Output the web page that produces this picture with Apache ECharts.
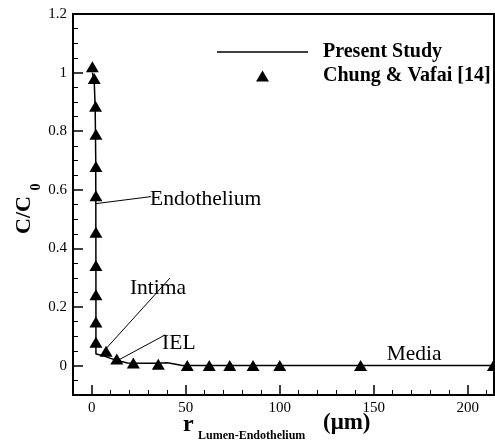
<!DOCTYPE html>
<html><head><meta charset="utf-8">
<script src="https://cdn.jsdelivr.net/npm/echarts@6/dist/echarts.min.js"></script>
<style>html,body{margin:0;padding:0;background:#fff}#c{width:495px;height:442px}</style>
</head><body><div id="c"></div>
<script>
// ---- data ----
const presentX = [0.3, 1.3, 1.8, 2.1, 2.2, 2.2, 3, 6, 10, 14, 19, 25, 35, 40, 44, 48, 60, 100, 214];
const presentY = [1.0, 0.97, 0.88, 0.7, 0.3, 0.04, 0.036, 0.035, 0.025, 0.017, 0.009, 0.008, 0.008, 0.01, 0.006, 0.001, 0.0005, 0.0005, 0.0005];
const chungX = [0.3, 1.3, 2.0, 2.2, 2.2, 2.2, 2.2, 2.2, 2.2, 2.2, 2.2, 7.6, 13.3, 22.1, 35.4, 50.8, 62.5, 73.4, 85.8, 100, 143, 213.7];
const chungY = [1.02, 0.98, 0.885, 0.79, 0.68, 0.58, 0.455, 0.342, 0.242, 0.149, 0.08, 0.049, 0.023, 0.009, 0.005, 0.001, 0.001, 0.001, 0.001, 0.001, 0.001, 0.001];
const xTickLabels = [0, 50, 100, 150, 200];
const xMinorTicks = [10, 20, 30, 40, 60, 70, 80, 90, 110, 120, 130, 140, 160, 170, 180, 190, 210];
const yTickLabels = [0, 0.2, 0.4, 0.6, 0.8, 1, 1.2];
const yMinorTicks = [-0.05, 0.05, 0.1, 0.15, 0.25, 0.3, 0.35, 0.45, 0.5, 0.55, 0.65, 0.7, 0.75, 0.85, 0.9, 0.95, 1.05, 1.1, 1.15];
const seriesNames = ['Present Study', 'Chung & Vafai [14]'];
const annotationLabels = ['Endothelium', 'Intima', 'IEL', 'Media'];

// ---- layout (annotation anchors in data coords) ----
const annotationText = [[31.0, 0.566], [20.3, 0.265], [37.4, 0.077], [156.9, 0.037]];
const annotationLines = [
  [[2.2, 0.553], [31.6, 0.577]],
  [[7.0, 0.054], [41.6, 0.299]],
  [[15.0, 0.022], [39.0, 0.105]],
  null
];
const FONT = 'Liberation Serif';

const chart = echarts.init(document.getElementById('c'), null, {renderer: 'canvas'});
const zip = (a, b) => a.map((v, i) => [v, b[i]]);

const option = {
  animation: false,
  backgroundColor: '#fff',
  grid: {left: 73, top: 14, right: 1, bottom: 47, show: true, borderColor: '#000', borderWidth: 2},
  legend: {
    orient: 'vertical', left: 217, top: 42, padding: 0, itemWidth: 91, itemHeight: 11, itemGap: 4,
    symbolKeepAspect: true,
    data: [
      {name: seriesNames[0], icon: 'path://M0,0L91,0L91,1.5L0,1.5Z', itemStyle: {color: '#000'}},
      {name: seriesNames[1], icon: 'path://M0,11L6.5,0L13,11Z', itemStyle: {color: '#000', opacity: 1}}
    ],
    textStyle: {fontFamily: FONT, fontSize: 20, fontWeight: 'bold', color: '#000', padding: [0, 0, 0, 10]}
  },
  xAxis: [{
    type: 'value', min: -10, max: 214,
    axisLine: {onZero: false, lineStyle: {color: '#000', width: 2}},
    axisTick: {inside: true, length: 10, customValues: xTickLabels, lineStyle: {color: '#000', width: 1.5}},
    axisLabel: {customValues: xTickLabels, fontFamily: FONT, fontSize: 15, color: '#000', margin: 6},
    splitLine: {show: false}
  }, {
    type: 'value', min: -10, max: 214, position: 'bottom', gridIndex: 0,
    axisLine: {show: false, onZero: false},
    axisTick: {inside: true, length: 5, customValues: xMinorTicks, lineStyle: {color: '#000', width: 1}},
    axisLabel: {show: false},
    splitLine: {show: false}
  }],
  yAxis: [{
    type: 'value', min: -0.1, max: 1.2,
    axisLine: {onZero: false, lineStyle: {color: '#000', width: 2}},
    axisTick: {inside: true, length: 10, customValues: yTickLabels, lineStyle: {color: '#000', width: 1.5}},
    axisLabel: {customValues: yTickLabels, fontFamily: FONT, fontSize: 15, color: '#000', margin: 6},
    splitLine: {show: false}
  }, {
    type: 'value', min: -0.1, max: 1.2, position: 'left', gridIndex: 0,
    axisLine: {show: false, onZero: false},
    axisTick: {inside: true, length: 5, customValues: yMinorTicks, lineStyle: {color: '#000', width: 1}},
    axisLabel: {show: false},
    splitLine: {show: false}
  }],
  series: [{
    name: seriesNames[0], type: 'line', data: zip(presentX, presentY),
    showSymbol: false, symbol: 'none', lineStyle: {color: '#000', width: 1.5}, itemStyle: {color: '#000'}, z: 3
  }, {
    name: seriesNames[1], type: 'scatter', data: zip(chungX, chungY),
    symbol: 'triangle', symbolSize: [13, 11], itemStyle: {color: '#000', opacity: 1}, z: 4
  }]
};
chart.setOption(option);

const px = p => chart.convertToPixel({xAxisIndex: 0, yAxisIndex: 0}, p);
const graphics = [];
annotationLabels.forEach((t, i) => {
  const p = px(annotationText[i]);
  graphics.push({type: 'text', x: p[0], y: p[1], z: 10,
    style: {text: t, fontFamily: FONT, fontSize: 21.5, fill: '#000', textAlign: 'left', textVerticalAlign: 'middle'}});
  if (annotationLines[i]) {
    const a = px(annotationLines[i][0]), b = px(annotationLines[i][1]);
    graphics.push({type: 'line', z: 10, shape: {x1: a[0], y1: a[1], x2: b[0], y2: b[1]}, style: {stroke: '#000', lineWidth: 1}});
  }
});
// axis titles
graphics.push({type: 'text', x: 24, y: 215, rotation: Math.PI / 2,
  style: {text: 'C/C', fontFamily: FONT, fontSize: 22, fontWeight: 'bold', fill: '#000', textAlign: 'center', textVerticalAlign: 'middle'}});
graphics.push({type: 'text', x: 36, y: 187, rotation: Math.PI / 2,
  style: {text: '0', fontFamily: FONT, fontSize: 14, fontWeight: 'bold', fill: '#000', textAlign: 'center', textVerticalAlign: 'middle'}});
graphics.push({type: 'text', x: 183, y: 425,
  style: {text: 'r', fontFamily: FONT, fontSize: 24, fontWeight: 'bold', fill: '#000', textAlign: 'left', textVerticalAlign: 'middle'}});
graphics.push({type: 'text', x: 198, y: 436,
  style: {text: 'Lumen-Endothelium', fontFamily: FONT, fontSize: 12, fontWeight: 'bold', fill: '#000', textAlign: 'left', textVerticalAlign: 'middle'}});
graphics.push({type: 'text', x: 323, y: 423,
  style: {text: '(μm)', fontFamily: FONT, fontSize: 23, fontWeight: 'bold', fill: '#000', textAlign: 'left', textVerticalAlign: 'middle'}});
chart.setOption({graphic: graphics});
</script>
</body></html>
